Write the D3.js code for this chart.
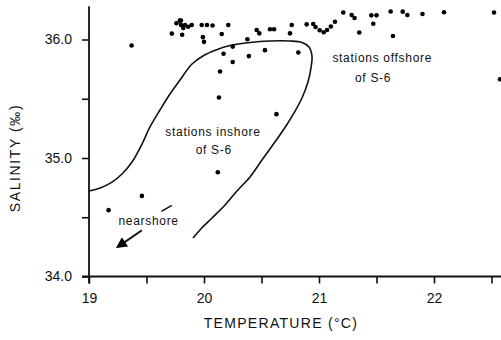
<!DOCTYPE html>
<html><head><meta charset="utf-8">
<script src="https://cdn.jsdelivr.net/npm/d3@7"></script>
<style>
html,body{margin:0;padding:0;background:#fff;}
svg{display:block;}
text{font-family:"Liberation Sans","DejaVu Sans",sans-serif;fill:#111;}
</style></head>
<body>
<svg id="c" width="501" height="340"></svg>
<script>
// ---- data ----
const temperature = [19.37,19.17,19.46,20.12,20.13,20.14,20.63,20.17,20.25,20.25,20.39,20.53,20.82,19.99,20.00,
  19.72,19.81,19.76,19.79,19.80,19.82,19.835,19.863,19.893,19.80,19.98,20.026,20.074,20.211,20.154,20.377,20.458,20.481,
  20.574,20.609,20.763,20.748,20.893,20.95,20.97,21.006,21.041,21.07,21.103,21.139,21.211,21.284,21.309,21.35,
  21.455,21.50,21.472,21.623,21.728,21.768,21.90,21.643,22.087,22.522,22.574];
const salinity = [35.95,34.56,34.68,34.88,35.51,35.73,35.37,35.88,35.81,35.94,35.86,35.91,35.89,36.02,35.98,
  36.05,36.04,36.137,36.159,36.122,36.097,36.122,36.108,36.122,36.16,36.122,36.122,36.118,36.122,36.046,36.002,36.08,36.052,
  36.086,36.086,36.122,36.052,36.128,36.131,36.105,36.078,36.061,36.08,36.11,36.15,36.228,36.207,36.181,36.059,
  36.204,36.204,36.133,36.236,36.235,36.207,36.215,36.03,36.23,36.228,35.664];
const envelopeT = [19.000,19.096,19.200,19.287,19.374,19.461,19.530,19.617,19.704,19.791,19.896,19.991,20.104,20.226,
  20.400,20.574,20.748,20.852,20.913,20.939,20.930,20.904,20.852,20.783,20.713,20.617,20.504,20.400,20.287,20.183,20.070,19.965,19.904];
const envelopeS = [34.722,34.747,34.797,34.865,34.966,35.118,35.262,35.405,35.540,35.658,35.793,35.861,35.911,35.949,
  35.975,35.987,35.987,35.975,35.937,35.861,35.759,35.641,35.506,35.380,35.270,35.135,34.983,34.840,34.722,34.603,34.494,34.393,34.325];
const xTicks = [19,19.5,20,20.5,21,21.5,22,22.5];
const xTickLabels = {19:"19",20:"20",21:"21",22:"22"};
const yTicks = [34,34.5,35,35.5,36];
const yTickLabels = {34:"34.0",35:"35.0",36:"36.0"};
const annotationText = ["stations offshore","of S-6","stations inshore","of S-6","nearshore"];
const annotationT = [21.55, 21.47, 20.078, 20.085, 19.518];
const annotationS = [35.81, 35.64, 35.186, 35.034, 34.435];
const arrowT = [19.46, 19.25];   // arrow from -> to
const arrowS = [34.39, 34.25];
const dashT = [19.63, 19.72];
const dashS = [34.55, 34.60];

// ---- chart ----
const svg = d3.select("#c");
const x = d3.scaleLinear().domain([19,22]).range([89,434]);
const y = d3.scaleLinear().domain([34,36]).range([276.5,39.5]);
const stroke = "#111";

// x axis
const gx = svg.append("g").attr("transform",`translate(0,${y(34)})`)
  .call(d3.axisBottom(x).tickValues(xTicks).tickSize(7).tickPadding(10)
     .tickFormat(d=>xTickLabels[d]||""));
gx.select(".domain").remove();
gx.selectAll(".tick line").attr("stroke",stroke).attr("stroke-width",1.6);
gx.selectAll(".tick text").attr("font-size",14).style("font-family","Liberation Sans, sans-serif").attr("fill","#111");
svg.append("line").attr("x1",x(19)-7).attr("x2",501).attr("y1",y(34)).attr("y2",y(34))
  .attr("stroke",stroke).attr("stroke-width",1.8);

// y axis
const gy = svg.append("g").attr("transform",`translate(${x(19)},0)`)
  .call(d3.axisLeft(y).tickValues(yTicks).tickSize(7).tickPadding(10)
     .tickFormat(d=>yTickLabels[d]||""));
gy.select(".domain").remove();
gy.selectAll(".tick line").attr("stroke",stroke).attr("stroke-width",1.6);
gy.selectAll(".tick text").attr("font-size",14).style("font-family","Liberation Sans, sans-serif").attr("fill","#111");
svg.append("line").attr("x1",x(19)).attr("x2",x(19)).attr("y1",y(36.28)).attr("y2",y(34)+7)
  .attr("stroke",stroke).attr("stroke-width",1.8);

// axis titles
svg.append("text").attr("x",281).attr("y",328).attr("text-anchor","middle")
  .attr("font-size",14).attr("letter-spacing",1.3).text("TEMPERATURE (°C)");
svg.append("text").attr("transform","translate(20,158) rotate(-90)").attr("text-anchor","middle")
  .attr("font-size",14).attr("letter-spacing",1.6).text("SALINITY  (‰)");

// envelope curve
const env = envelopeT.map((t,i)=>[t,envelopeS[i]]);
svg.append("path").datum(env)
  .attr("d",d3.line().x(d=>x(d[0])).y(d=>y(d[1])).curve(d3.curveCatmullRom.alpha(0.5)))
  .attr("fill","none").attr("stroke",stroke).attr("stroke-width",1.6);

// points
const pts = temperature.map((t,i)=>[t,salinity[i]]);
svg.append("g").selectAll("circle").data(pts).join("circle")
  .attr("cx",d=>x(d[0])).attr("cy",d=>y(d[1])).attr("r",2.3).attr("fill","#000");

// annotations
svg.append("g").selectAll("text").data(annotationText).join("text")
  .attr("x",(d,i)=>x(annotationT[i])).attr("y",(d,i)=>y(annotationS[i]))
  .attr("text-anchor","middle").attr("font-size",12).attr("letter-spacing",0.7).text(d=>d);

// arrow
svg.append("defs").append("marker").attr("id","ah").attr("viewBox","0 0 10 10")
  .attr("refX",8).attr("refY",5).attr("markerWidth",14).attr("markerHeight",11)
  .attr("orient","auto").attr("markerUnits","userSpaceOnUse")
  .append("path").attr("d","M0,0 L10,5 L0,10 Z").attr("fill","#000");
svg.append("line").attr("x1",x(arrowT[0])).attr("y1",y(arrowS[0])).attr("x2",x(arrowT[1])).attr("y2",y(arrowS[1]))
  .attr("stroke",stroke).attr("stroke-width",2).attr("marker-end","url(#ah)");
svg.append("line").attr("x1",x(dashT[0])).attr("y1",y(dashS[0])).attr("x2",x(dashT[1])).attr("y2",y(dashS[1]))
  .attr("stroke",stroke).attr("stroke-width",1.6);
</script>
</body></html>
